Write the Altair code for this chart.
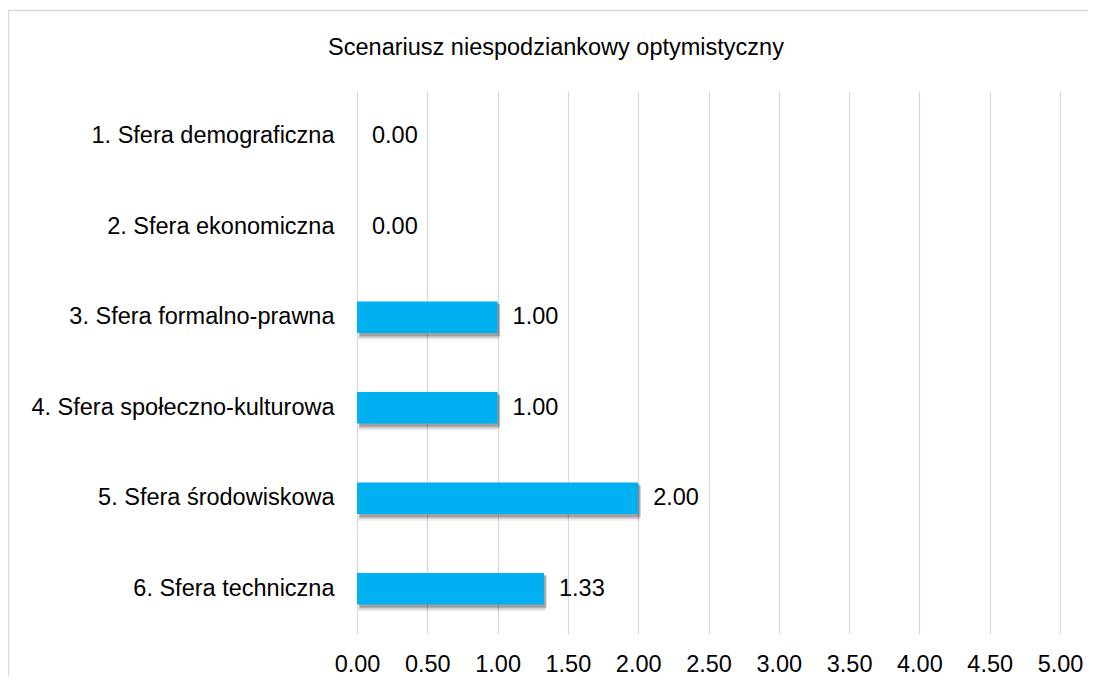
import altair as alt
import pandas as pd

categories = [
    "1. Sfera demograficzna",
    "2. Sfera ekonomiczna",
    "3. Sfera formalno-prawna",
    "4. Sfera społeczno-kulturowa",
    "5. Sfera środowiskowa",
    "6. Sfera techniczna",
]
values = [0.0, 0.0, 1.0, 1.0, 2.0, 1.33]
x_ticks = [0, 0.5, 1, 1.5, 2, 2.5, 3, 3.5, 4, 4.5, 5]
title_text = "Scenariusz niespodziankowy optymistyczny"

df = pd.DataFrame({"cat": categories, "val": values})

FONT = "Liberation Sans"
FS = 23.5

y_enc = alt.Y(
    "cat:N",
    sort=categories,
    title=None,
    scale=alt.Scale(paddingInner=0.65, paddingOuter=0.325),
    axis=alt.Axis(
        labelFont=FONT, labelFontSize=FS, labelColor="#000000",
        ticks=False, tickSize=0, domain=False, grid=False,
        labelPadding=23, labelLimit=400,
    ),
)
x_enc = alt.X(
    "val:Q",
    title=None,
    scale=alt.Scale(domain=[0, 5], nice=False),
    axis=alt.Axis(
        values=x_ticks, format=".2f",
        labelFont=FONT, labelFontSize=FS, labelColor="#000000",
        ticks=False, tickSize=0, domain=False,
        grid=True, gridColor="#D9D9D9", gridWidth=1.2,
        labelPadding=18, labelFlush=False, labelOverlap=False,
    ),
)

base = alt.Chart(df)

frame = alt.Chart(alt.Data(values=[{"a": 1}])).mark_rect(
    fill=None, stroke="#D9D9D9", strokeWidth=1.3
).encode(
    x=alt.value(-348.5), x2=alt.value(760),
    y=alt.value(-80.5), y2=alt.value(640),
)

pos = base.transform_filter("datum.val > 0")
shadow3 = pos.mark_bar(color="#000000", opacity=0.07, size=37, xOffset=1, x2Offset=7, yOffset=4).encode(x=x_enc, y=y_enc)
shadow2 = pos.mark_bar(color="#000000", opacity=0.13, size=34.5, xOffset=2, x2Offset=5.5, yOffset=3.5).encode(x=x_enc, y=y_enc)
shadow1 = pos.mark_bar(color="#000000", opacity=0.22, size=32, xOffset=2.5, x2Offset=4, yOffset=3).encode(x=x_enc, y=y_enc)

bars = base.mark_bar(color="#00B0F0", size=31.5).encode(x=x_enc, y=y_enc)

labels = base.mark_text(
    align="left", baseline="middle", dx=15,
    font=FONT, fontSize=FS, color="#000000",
).encode(x=x_enc, y=y_enc, text=alt.Text("val:Q", format=".2f"))

chart = alt.layer(frame, shadow3, shadow2, shadow1, bars, labels).properties(
    width=703,
    height=543,
    title=alt.TitleParams(
        title_text, font=FONT, fontSize=FS, fontWeight="normal",
        color="#000000", anchor="middle", dx=-152.5, offset=0,
        baseline="alphabetic", dy=69,
    ),
    autosize=alt.AutoSizeParams(type="none"),
    padding={"left": 349, "top": 83, "right": 28, "bottom": 42},
).configure_view(stroke=None)

chart.save("out.html", embed_options={"renderer": "svg", "actions": False})
